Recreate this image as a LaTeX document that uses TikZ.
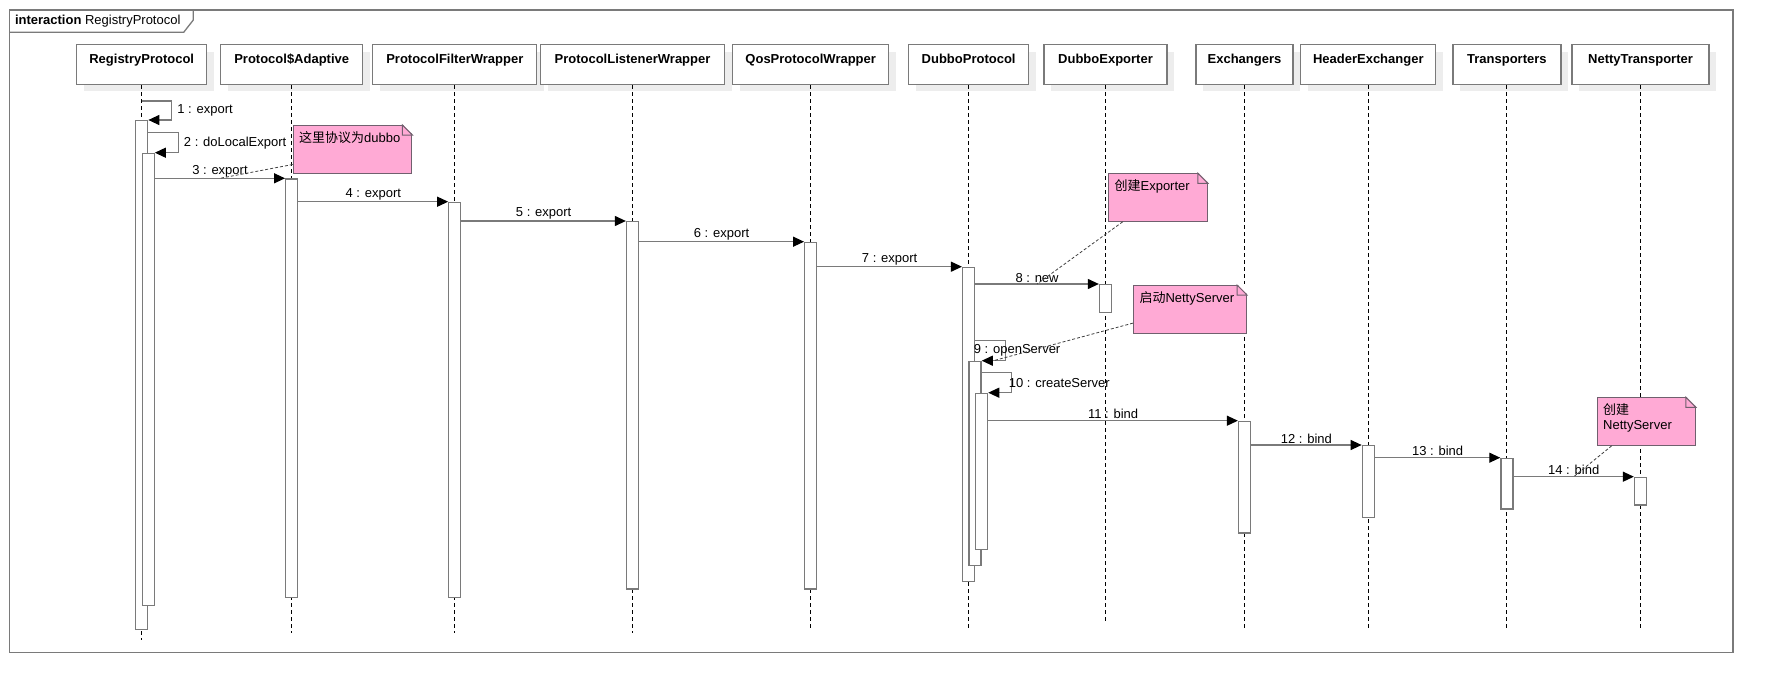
\documentclass[tikz,border=0pt]{standalone}
\usepackage{fontspec}
\setmainfont{Liberation Sans}
\newfontfamily\cjk{Noto Sans CJK SC}
\usetikzlibrary{arrows.meta,shadows}
\definecolor{gris}{RGB}{122,122,122}
\definecolor{rose}{RGB}{255,170,213}
\definecolor{bordnote}{RGB}{112,96,110}

\begin{document}
\begin{tikzpicture}[x=1pt,y=-1pt,font=\fontsize{13}{14.5}\selectfont,
	tete/.style={draw=gris,line width=1.3pt,fill=white,anchor=north,inner xsep=0pt,inner ysep=9.7pt,text height=9.3pt,text depth=11pt,general shadow={fill=black!7,shadow xshift=7pt,shadow yshift=-7pt}},
	vie/.style={black,line width=0.9pt,dash pattern=on 4pt off 3pt},
	barre/.style={draw=gris,line width=1.3pt,fill=white,anchor=north,minimum width=12pt,inner sep=0pt},
	msg/.style={gris,line width=1.2pt,-{Triangle[length=11pt,width=10pt,color=black,fill=black]}},
	lbl/.style={inner sep=1pt,text=black},
	note/.style={draw=bordnote,line width=1pt,fill=rose,anchor=north west,inner xsep=6pt,inner ysep=0pt,text height=17pt,text depth=30.5pt,align=left},
	ancre/.style={black!75,line width=0.8pt,dash pattern=on 3pt off 2pt}]
	\useasboundingbox (0,0) rectangle (1773,693);
%
% Cadre de l'interaction
	\draw[gris,line width=1.5pt] (9.6,10) rectangle (1732.8,652.5);
	\draw[gris,line width=1.3pt] (9.6,32.3) -- (183.7,32.3) -- (193.3,20) -- (193.3,10);
	\node[anchor=west] (titre) at (11.5,21.5) {\textbf{interaction} RegistryProtocol};
%
% Objets et lignes de vie
	\foreach \i/\x/\w/\nom/\yb in {1/141.7/130/RegistryProtocol/640, 2/291.7/142/Protocol\$Adaptive/633,
		3/454.8/164/ProtocolFilterWrapper/633, 4/632.5/184/ProtocolListenerWrapper/633,
		5/810.7/156/QosProtocolWrapper/627.7, 6/968.6/120/DubboProtocol/627.7,
		7/1105.5/123/DubboExporter/620.7, 8/1244.5/97/Exchangers/627.7,
		9/1368.3/135/HeaderExchanger/627.7, 10/1506.9/108/Transporters/627.7,
		11/1640.5/137/NettyTransporter/627.7}{
		\node[tete,minimum width=\w] (t\i) at (\x,44) {\bfseries\nom};
		\draw[vie] (t\i.south) -- (t\i.south |- 0,\yb);
	};
%
% Barres d'activation
	\foreach \n/\x/\ya/\yb in {a1/141.7/120/629, a1b/148.2/152.7/605, a2/291.7/178.3/596.7,
		a3/454.8/201.7/596.7, a4/632.5/221/588.3, a5/810.7/241.7/588.3,
		a6/968.6/266.7/581, a6b/975.1/360.7/565, a6c/981.6/392.7/549,
		a7/1105.5/284/311.7, a8/1244.5/420.7/532.3, a9/1368.3/445/516.7,
		a10/1506.9/457.7/508.3, a11/1640.5/476.7/504.3}{
		\node[barre,minimum height=\yb-\ya] (\n) at (\x,\ya) {};
	};
%
% Messages
	\draw[msg] (t1.south |- 0,101) -- ++(30,0) |- (a1.north east) node[lbl,pos=.25,right,xshift=4pt] {1 : export};
	\draw[msg] (a1.east |- 0,132.7) -- ++(30,0) |- (a1b.north east) node[lbl,pos=.25,right,xshift=4pt] {2 : doLocalExport};
	\draw[msg] (a1b.east |- a2.north west) -- (a2.north west) node[lbl,midway,above] {3 : export} coordinate[pos=.5] (m3);
	\draw[msg] (a2.east |- a3.north west) -- (a3.north west) node[lbl,midway,above] {4 : export};
	\draw[msg] (a3.east |- a4.north west) -- (a4.north west) node[lbl,midway,above] {5 : export};
	\draw[msg] (a4.east |- a5.north west) -- (a5.north west) node[lbl,midway,above] {6 : export};
	\draw[msg] (a5.east |- a6.north west) -- (a6.north west) node[lbl,midway,above] {7 : export};
	\draw[msg] (a6.east |- a7.north west) -- (a7.north west) node[lbl,midway,above] {8 : new} coordinate[pos=.5] (m8);
	\draw[msg] (a6.east |- 0,340.7) -- ++(30,0) |- (a6b.north east) node[lbl,pos=.25,anchor=west,xshift=-33pt] {9 : openServer} coordinate[pos=.75] (m9);
	\draw[msg] (a6b.east |- 0,372.7) -- ++(30,0) |- (a6c.north east) node[lbl,pos=.25,anchor=west,xshift=-4.5pt] {10 : createServer};
	\draw[msg] (a6c.east |- a8.north west) -- (a8.north west) node[lbl,midway,above] {11 : bind};
	\draw[msg] (a8.east |- a9.north west) -- (a9.north west) node[lbl,midway,above] {12 : bind};
	\draw[msg] (a9.east |- a10.north west) -- (a10.north west) node[lbl,midway,above] {13 : bind};
	\draw[msg] (a10.east |- a11.north west) -- (a11.north west) node[lbl,midway,above] {14 : bind} coordinate[pos=.5] (m14);
%
% Notes
	\node[note,text width=106.7pt] (n1) at (292.7,125) {{\cjk 这里协议为}dubbo};
	\node[note,text width=86.8pt] (n2) at (1108.1,173.3) {{\cjk 创建}Exporter};
	\node[note,text width=101pt] (n3) at (1133,285) {{\cjk 启动}NettyServer};
	\node[note,text width=86.2pt] (n4) at (1596.7,397.3) {{\cjk 创建}\\NettyServer};
	\foreach \n in {n1,n2,n3,n4}{
		\fill[white] ([xshift=-10pt,yshift=1pt]\n.north east) -- ([xshift=1pt,yshift=1pt]\n.north east) -- ([xshift=1pt,yshift=-10pt]\n.north east) -- cycle;
		\draw[bordnote,line width=1pt,fill=rose] ([xshift=-10pt]\n.north east) -- ([yshift=-10pt]\n.north east) -- ([xshift=-10pt,yshift=-10pt]\n.north east) -- cycle;
	};
	\draw[ancre] ([yshift=9pt]n1.south west) -- (m3);
	\draw[ancre] ([xshift=14.6pt]n2.south west) -- (m8);
	\draw[ancre] ([yshift=10.4pt]n3.south west) -- (m9);
	\draw[ancre] ([xshift=15pt]n4.south west) -- (m14);

\end{tikzpicture}
\end{document}
